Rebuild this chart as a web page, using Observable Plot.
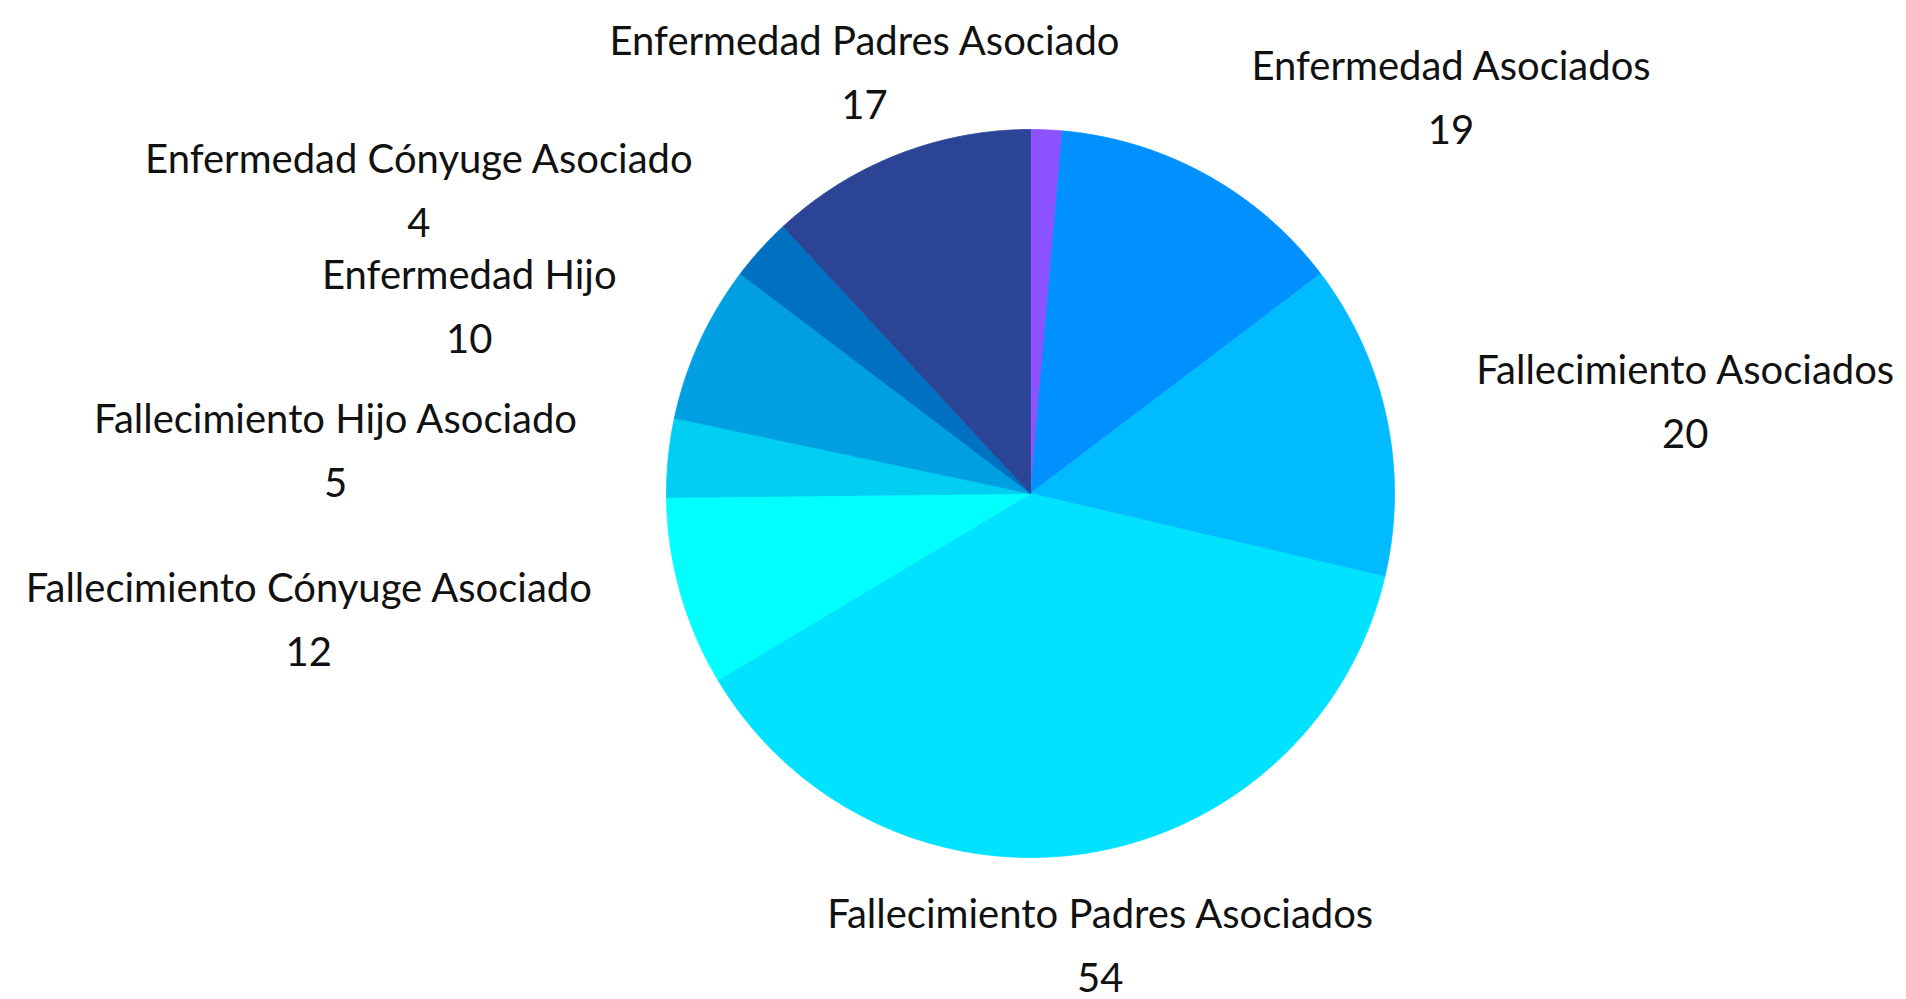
<!DOCTYPE html>
<html>
<head>
<meta charset="utf-8">
<script src="https://cdn.jsdelivr.net/npm/d3@7"></script>
<script src="https://cdn.jsdelivr.net/npm/@observablehq/plot@0.6"></script>
<style>
  html, body { margin: 0; padding: 0; background: #ffffff; }
  #chart svg { display: block; }
</style>
</head>
<body>
<div id="chart"></div>
<script>
// ---- data ----
const categories = [
  "",
  "Enfermedad Asociados",
  "Fallecimiento Asociados",
  "Fallecimiento Padres Asociados",
  "Fallecimiento Cónyuge Asociado",
  "Fallecimiento Hijo Asociado",
  "Enfermedad Hijo",
  "Enfermedad Cónyuge Asociado",
  "Enfermedad Padres Asociado"
];
const values = [2, 19, 20, 54, 12, 5, 10, 4, 17];
const colors = ["#8c52ff", "#0091ff", "#00bbff", "#00e2ff", "#00ffff", "#00cff2", "#009fe2", "#0071c1", "#2b4496"];

// ---- layout ----
const W = 1906, H = 999;
const R = 364;               // pie radius in px
const cx = 1030, cy = 493;   // pie centre in px
const fontSize = 40;
const fontFamily = "Lato, 'Open Sans', sans-serif";
const lineGap = 32;
const shift = 4;

const pie = d3.pie().sort(null).value(d => d)(values);

// slice polygons in unit coordinates (y up)
const sliceMarks = pie.map((p, i) => {
  const pts = [{x: 0, y: 0}];
  const n = Math.max(2, Math.ceil((p.endAngle - p.startAngle) / (Math.PI / 720)));
  for (let k = 0; k <= n; k++) {
    const a = p.startAngle + (p.endAngle - p.startAngle) * k / n;
    pts.push({x: Math.sin(a), y: Math.cos(a)});
  }
  pts.push({x: 0, y: 0});
  return Plot.line(pts, {x: "x", y: "y", fill: colors[i], stroke: colors[i], strokeWidth: 0.8, curve: "linear"});
});

// label measurement
const ctx = document.createElement("canvas").getContext("2d");
ctx.font = `${fontSize}px Lato`;

const labelMarks = [];
pie.forEach((p, i) => {
  if (!categories[i]) return;
  const mid = (p.startAngle + p.endAngle) / 2;
  const sx = Math.sin(mid), sy = Math.cos(mid);
  const d = {x: 1.25 * sx, y: 1.25 * sy, name: categories[i], value: String(values[i])};
  const w = ctx.measureText(categories[i]).width;
  const nearVertical = Math.abs(sy) > Math.cos(25 * Math.PI / 180);
  const side = nearVertical ? 0 : (sx > 0 ? 1 : -1);
  const dx = side * w / 2;
  labelMarks.push(Plot.text([d], {x: "x", y: "y", text: "name", dx, dy: -lineGap + shift, textAnchor: "middle", lineAnchor: "middle", fontSize, fill: "#111"}));
  labelMarks.push(Plot.text([d], {x: "x", y: "y", text: "value", dx, dy: lineGap + shift, textAnchor: "middle", lineAnchor: "middle", fontSize, fill: "#111"}));
});

const chart = Plot.plot({
  width: W,
  height: H,
  margin: 0,
  style: {fontFamily, background: "#ffffff"},
  x: {domain: [-cx / R, (W - cx) / R], range: [0, W], axis: null},
  y: {domain: [-(H - cy) / R, cy / R], range: [H, 0], axis: null},
  marks: [...sliceMarks, ...labelMarks]
});
document.getElementById("chart").appendChild(chart);
</script>
</body>
</html>
